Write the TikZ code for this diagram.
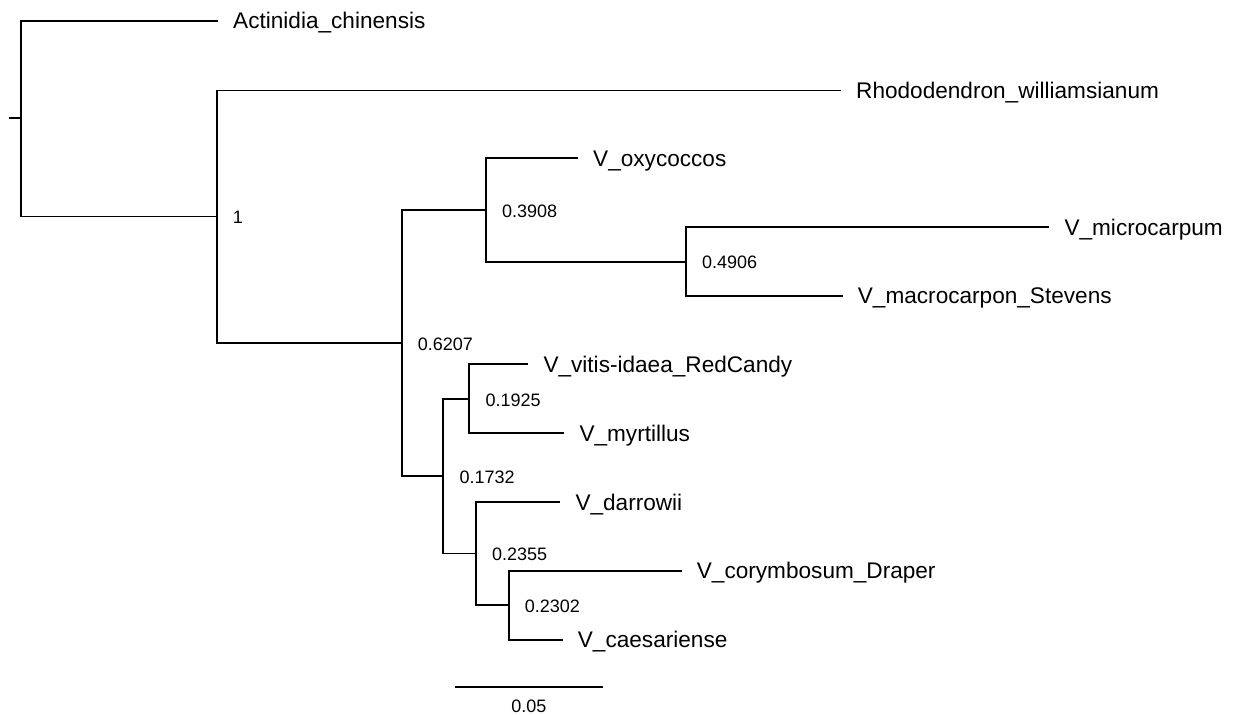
\documentclass[tikz,border=0pt]{standalone}
\usepackage{fontspec}
\setmainfont{Liberation Sans}
\usetikzlibrary{calc}
\begin{document}
\begin{tikzpicture}[x=1pt,y=-1pt,
  br/.style={line width=1.8pt,line join=miter,line cap=rect},
  leaf/.style={anchor=base west,inner sep=0pt,font=\fontsize{22.6}{27}\selectfont},
  supp/.style={anchor=base west,inner sep=0pt,font=\fontsize{18}{21}\selectfont}]
\useasboundingbox (0,0) rectangle (1238,714);
% internal nodes
\coordinate (r) at (20.7,118.3);
\coordinate (tick) at (10,118.3);
\coordinate (n1) at (216.7,216.5);
\coordinate (n2) at (401.7,343.3);
\coordinate (n3) at (486,210);
\coordinate (n4) at (686,261.7);
\coordinate (n5) at (443.3,476);
\coordinate (n6) at (469.3,399);
\coordinate (n7) at (476,553.5);
\coordinate (n8) at (508.7,605.3);
% tips
\coordinate (tA) at (217,20.7);
\coordinate (tR) at (840,90.5);
\coordinate (tOx) at (577,158.3);
\coordinate (tMi) at (1048.3,227.3);
\coordinate (tMa) at (841.7,296);
\coordinate (tVi) at (527.3,364.3);
\coordinate (tMy) at (563.3,433.3);
\coordinate (tDa) at (559.3,502.3);
\coordinate (tCo) at (680.7,570.7);
\coordinate (tCa) at (561.7,640);
% branches
\draw[br] (tick) -- (r);
\draw[br] (tA) -- (r|-tA) -- (r|-n1) -- (n1);
\draw[br] (tR) -- (n1|-tR) -- (n1|-n2) -- (n2);
\draw[br] (n3) -- (n2|-n3) -- (n2|-n5) -- (n5);
\draw[br] (tOx) -- (n3|-tOx) -- (n3|-n4) -- (n4);
\draw[br] (tMi) -- (n4|-tMi) -- (n4|-tMa) -- (tMa);
\draw[br] (n6) -- (n5|-n6) -- (n5|-n7) -- (n7);
\draw[br] (tVi) -- (n6|-tVi) -- (n6|-tMy) -- (tMy);
\draw[br] (tDa) -- (n7|-tDa) -- (n7|-n8) -- (n8);
\draw[br] (tCo) -- (n8|-tCo) -- (n8|-tCa) -- (tCa);
% leaf labels
\node[leaf] (lA) at ([xshift=16pt,yshift=-7.8pt]tA) {Actinidia\_chinensis};
\node[leaf] (lR) at ([xshift=16pt,yshift=-7.8pt]tR) {Rhododendron\_williamsianum};
\node[leaf] (lOx) at ([xshift=16pt,yshift=-7.8pt]tOx) {V\_oxycoccos};
\node[leaf] (lMi) at ([xshift=16pt,yshift=-7.8pt]tMi) {V\_microcarpum};
\node[leaf] (lMa) at ([xshift=16pt,yshift=-7.8pt]tMa) {V\_macrocarpon\_Stevens};
\node[leaf] (lVi) at ([xshift=16pt,yshift=-7.8pt]tVi) {V\_vitis-idaea\_RedCandy};
\node[leaf] (lMy) at ([xshift=16pt,yshift=-7.8pt]tMy) {V\_myrtillus};
\node[leaf] (lDa) at ([xshift=16pt,yshift=-7.8pt]tDa) {V\_darrowii};
\node[leaf] (lCo) at ([xshift=16pt,yshift=-7.8pt]tCo) {V\_corymbosum\_Draper};
\node[leaf] (lCa) at ([xshift=16pt,yshift=-7.8pt]tCa) {V\_caesariense};
% support values
\node[supp] (s1) at ([xshift=16pt,yshift=-7pt]n1) {1};
\node[supp] (s2) at ([xshift=16pt,yshift=-7pt]n2) {0.6207};
\node[supp] (s3) at ([xshift=16pt,yshift=-7pt]n3) {0.3908};
\node[supp] (s4) at ([xshift=16pt,yshift=-7pt]n4) {0.4906};
\node[supp] (s5) at ([xshift=16pt,yshift=-7pt]n5) {0.1732};
\node[supp] (s6) at ([xshift=16pt,yshift=-7pt]n6) {0.1925};
\node[supp] (s7) at ([xshift=16pt,yshift=-7pt]n7) {0.2355};
\node[supp] (s8) at ([xshift=16pt,yshift=-7pt]n8) {0.2302};
% scale bar
\coordinate (sb1) at (455,686.7);
\coordinate (sb2) at (602.7,686.7);
\draw[br,line cap=butt] (sb1) -- (sb2);
\node[supp,anchor=base] (sbl) at ([yshift=-25.5pt]$(sb1)!0.5!(sb2)$) {0.05};
\end{tikzpicture}
\end{document}
